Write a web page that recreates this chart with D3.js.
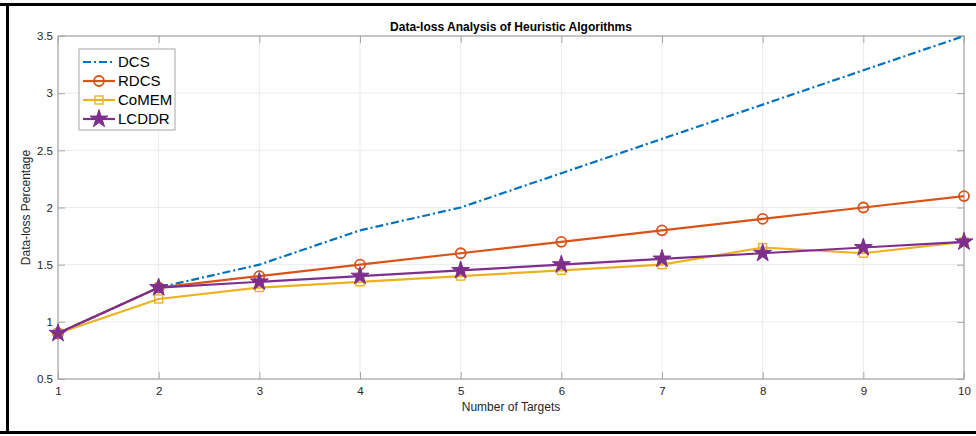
<!DOCTYPE html>
<html lang="en"><head>
<meta charset="utf-8"/>
<title>Data-loss Analysis of Heuristic Algorithms</title>
<script src="https://d3js.org/d3.v7.min.js"></script>
<style>
    body { width: 976px; height: 436px; margin: 0; padding: 0; background: #fff; font-family: 'Liberation Sans', Arial, sans-serif; }
    #chart svg { display: block; }
</style>
</head>
<body>
<div id="chart"></div>
<script>
    // Chart data
    const targets = [1, 2, 3, 4, 5, 6, 7, 8, 9, 10];
    const dcs   = [0.9, 1.3, 1.5, 1.8, 2.0, 2.3, 2.6, 2.9, 3.2, 3.5];
    const rdcs  = [0.9, 1.3, 1.4, 1.5, 1.6, 1.7, 1.8, 1.9, 2.0, 2.1];
    const comem = [0.9, 1.2, 1.3, 1.35, 1.4, 1.45, 1.5, 1.65, 1.6, 1.7];
    const lcddr = [0.9, 1.3, 1.35, 1.4, 1.45, 1.5, 1.55, 1.6, 1.65, 1.7];
    const yTicks = [0.5, 1, 1.5, 2, 2.5, 3, 3.5];
    const yTickLabels = ["0.5", "1", "1.5", "2", "2.5", "3", "3.5"];

    const series = [
        { name: "DCS",   values: dcs,   color: "#0072BD", dash: "8,3,2,3", marker: null },
        { name: "RDCS",  values: rdcs,  color: "#D95319", dash: null, marker: "circle" },
        { name: "CoMEM", values: comem, color: "#EDB120", dash: null, marker: "square" },
        { name: "LCDDR", values: lcddr, color: "#7E2F8E", dash: null, marker: "star" }
    ];

    const W = 976, H = 436;
    const margin = { top: 36, right: 12, bottom: 57, left: 58 };
    const width = 964 - margin.left;
    const height = 379 - margin.top;

    const svg = d3.select("#chart").append("svg")
        .attr("width", W).attr("height", H);

    // outer frame (left, top, bottom)
    svg.append("path")
        .attr("d", "M0,4.5 H976 M7.5,4.5 V432.5 M0,432.5 H976")
        .attr("fill", "none").attr("stroke", "#000").attr("stroke-width", 3);

    const g = svg.append("g").attr("transform", `translate(${margin.left},${margin.top})`);

    const x = d3.scaleLinear().domain([1, 10]).range([0, width]);
    const y = d3.scaleLinear().domain([0.5, 3.5]).range([height, 0]);

    // grid
    g.append("g").selectAll("line").data(targets).join("line")
        .attr("x1", d => x(d)).attr("x2", d => x(d)).attr("y1", 0).attr("y2", height)
        .attr("stroke", "#ebebeb").attr("stroke-width", 1);
    g.append("g").selectAll("line").data(yTicks).join("line")
        .attr("x1", 0).attr("x2", width).attr("y1", d => y(d)).attr("y2", d => y(d))
        .attr("stroke", "#ebebeb").attr("stroke-width", 1);

    // axes (ticks inward)
    const axisColor = "#a6a6a6";
    const styleAxis = sel => {
        sel.select(".domain").remove();
        sel.selectAll(".tick line").attr("stroke", axisColor);
        sel.selectAll(".tick text").attr("fill", "#262626")
            .style("font-size", "11.5px").style("font-family", "'Liberation Sans', Arial, sans-serif");
    };
    g.append("g").attr("transform", `translate(0,${height})`)
        .call(d3.axisBottom(x).tickValues(targets).tickSize(-7).tickPadding(8).tickFormat(d3.format("d")))
        .call(styleAxis);
    g.append("g")
        .call(d3.axisTop(x).tickValues(targets).tickSize(-7).tickFormat(""))
        .call(styleAxis);
    g.append("g")
        .call(d3.axisLeft(y).tickValues(yTicks).tickSize(-7).tickPadding(5).tickFormat((d, i) => yTickLabels[i]))
        .call(styleAxis);
    g.append("g").attr("transform", `translate(${width},0)`)
        .call(d3.axisRight(y).tickValues(yTicks).tickSize(-7).tickFormat(""))
        .call(styleAxis);

    g.append("rect").attr("width", width).attr("height", height)
        .attr("fill", "none").attr("stroke", axisColor).attr("stroke-width", 1.2);

    // labels
    g.append("text").attr("x", width / 2).attr("y", -5).attr("text-anchor", "middle")
        .style("font-size", "12px").style("font-weight", "bold").attr("fill", "#000")
        .text("Data-loss Analysis of Heuristic Algorithms");
    g.append("text").attr("x", width / 2).attr("y", height + 32).attr("text-anchor", "middle")
        .style("font-size", "12px").attr("fill", "#262626").text("Number of Targets");
    g.append("text").attr("transform", `translate(-28,${height / 2}) rotate(-90)`)
        .attr("text-anchor", "middle").style("font-size", "12px").attr("fill", "#262626")
        .text("Data-loss Percentage");

    const star = d3.symbol().type(d3.symbolStar).size(100);
    function drawMarker(sel, type, color) {
        if (type === "circle") {
            sel.append("circle").attr("r", 5).attr("fill", "none").attr("stroke", color).attr("stroke-width", 1.8);
        } else if (type === "square") {
            sel.append("rect").attr("x", -4).attr("y", -4).attr("width", 8).attr("height", 8)
                .attr("fill", "none").attr("stroke", color).attr("stroke-width", 1.4);
        } else if (type === "star") {
            sel.append("path").attr("d", star).attr("fill", color).attr("stroke", color).attr("stroke-width", 1);
        }
    }

    const line = d3.line().x((d, i) => x(targets[i])).y(d => y(d));

    series.forEach(s => {
        g.append("path").datum(s.values)
            .attr("d", line).attr("fill", "none")
            .attr("stroke", s.color).attr("stroke-width", 2.2)
            .attr("stroke-dasharray", s.dash);
        if (s.marker) {
            g.append("g").selectAll("g").data(s.values).join("g")
                .attr("transform", (d, i) => `translate(${x(targets[i])},${y(d)})`)
                .each(function() { drawMarker(d3.select(this), s.marker, s.color); });
        }
    });

    // legend
    const lg = svg.append("g").attr("transform", "translate(79,49)");
    lg.append("rect").attr("width", 96).attr("height", 81)
        .attr("fill", "#fff").attr("stroke", "#a6a6a6").attr("stroke-width", 1);
    series.forEach((s, i) => {
        const yy = 13 + i * 19;
        lg.append("line").attr("x1", 4).attr("x2", 36).attr("y1", yy).attr("y2", yy)
            .attr("stroke", s.color).attr("stroke-width", 2.2).attr("stroke-dasharray", s.dash);
        if (s.marker) {
            const m = lg.append("g").attr("transform", `translate(20,${yy})`);
            drawMarker(m, s.marker, s.color);
        }
        lg.append("text").attr("x", 39).attr("y", yy + 5)
            .style("font-size", "15px").attr("fill", "#000").text(s.name);
    });
</script>
</body></html>
